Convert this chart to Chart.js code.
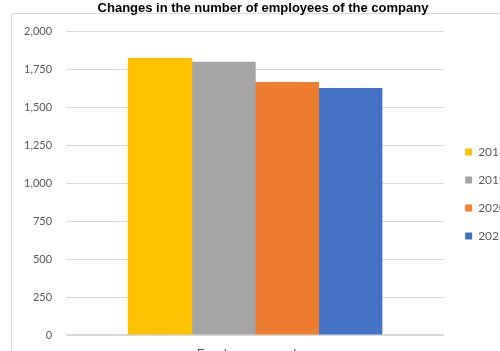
<!DOCTYPE html>
<html>
<head>
<meta charset="utf-8">
<title>Employees</title>
<script src="https://cdn.jsdelivr.net/npm/chart.js@4"></script>
<style>
    html, body { margin: 0; padding: 0; overflow: hidden; background: #fff; }
    #wrap { position: absolute; left: 0; top: 0; }
</style>
</head>
<body>
<div id="wrap"><canvas id="barChart" width="516" height="388"></canvas></div>
<script>
// chart data
const categories = ['Employees number'];
const years = ['2018', '2019', '2020', '2021'];
const employees = [1822, 1797, 1664, 1624];
const yearColors = ['#FFC000', '#A5A5A5', '#ED7D31', '#4472C4'];

// thin frame around the plot, like the spreadsheet chart border
const chartFrame = {
    id: 'chartFrame',
    beforeDraw(chart) {
        const ctx = chart.ctx;
        ctx.save();
        ctx.strokeStyle = '#d9d9d9';
        ctx.lineWidth = 1;
        ctx.strokeRect(11.5, 13.5, chart.width, chart.height);
        ctx.restore();
    }
};

Chart.defaults.font.family = 'Lato, sans-serif';
Chart.defaults.color = '#595959';

let barChartData = {
    labels: categories,
    datasets: years.map(function (year, i) {
        return {
            label: year,
            data: [employees[i]],
            backgroundColor: yearColors[i],
            borderWidth: 0,
            inflateAmount: 0.6
        };
    })
};

new Chart(document.getElementById('barChart').getContext('2d'), {
    type: 'bar',
    data: barChartData,
    plugins: [chartFrame],
    options: {
        responsive: false,
        animation: false,
        locale: 'en-US',
        layout: { padding: { left: 10, top: 0, right: 0, bottom: 0 } },
        datasets: {
            bar: { barPercentage: 1, categoryPercentage: 0.67 }
        },
        plugins: {
            title: {
                display: true,
                text: 'Changes in the number of employees of the company',
                color: '#000',
                font: { family: '"Liberation Sans", Arial, sans-serif', size: 13, weight: 'bold' },
                padding: { top: 1, bottom: 15 }
            },
            legend: {
                position: 'right',
                labels: {
                    boxWidth: 7,
                    boxHeight: 7,
                    padding: 16,
                    font: { size: 12 },
                    color: '#595959'
                }
            },
            tooltip: { enabled: false }
        },
        scales: {
            x: {
                grid: { display: false },
                border: { display: false },
                ticks: { padding: 3, font: { size: 14 } },
                afterFit: function (scale) { scale.height = 53; }
            },
            y: {
                min: 0,
                max: 2000,
                grid: {
                    color: '#d9d9d9',
                    drawTicks: false,
                    lineWidth: function (c) { return c.tick && c.tick.value === 0 ? 2 : 1; }
                },
                border: { display: false },
                ticks: { stepSize: 250, padding: 14, font: { size: 11 } }
            },
            // empty axis, only keeps a small gap before the legend
            gap: {
                position: 'right',
                display: true,
                grid: { display: false },
                border: { display: false },
                ticks: { display: false },
                afterFit: function (scale) { scale.width = 5; }
            }
        }
    }
});
</script>
</body>
</html>
